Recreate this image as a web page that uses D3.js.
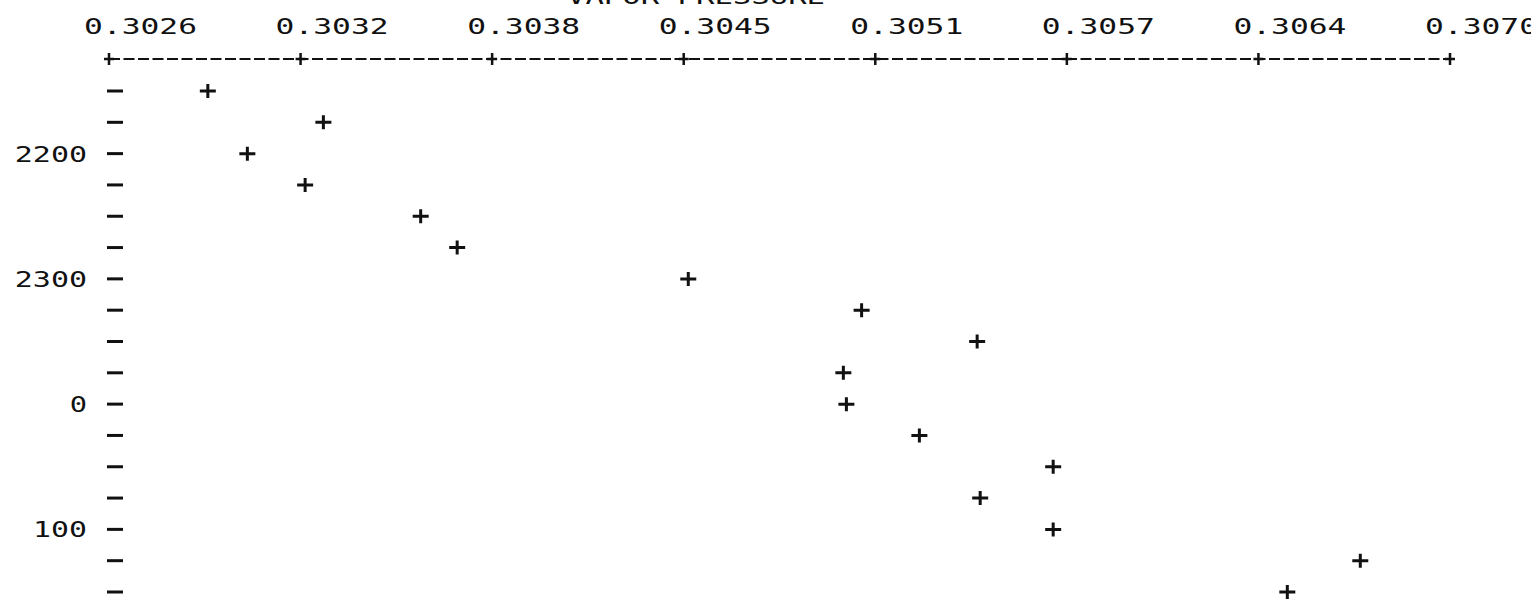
<!DOCTYPE html>
<html>
<head>
  <script src="https://cdnjs.cloudflare.com/ajax/libs/d3/7.8.5/d3.min.js"></script>
  <style>
    body { margin: 0; background: #fff; overflow: hidden; }
    text { font-family: "DejaVu Sans Mono", monospace; fill: #111; }
  </style>
</head>
<body>
  <svg></svg>
  <script>
    // observations: vapor pressure read at each clock time (HHMM)
    var clockTimes = [2130, 2145, 2200, 2215, 2230, 2245, 2300, 2315, 2330, 2345, 0, 15, 30, 45, 100, 115, 130];
    var vaporPressure = [0.30290, 0.30328, 0.30303, 0.30322, 0.30360, 0.30372, 0.30448, 0.30505, 0.30543,
                         0.30499, 0.30500, 0.30524, 0.30568, 0.30544, 0.30568, 0.30669, 0.30645];

    // top axis ticks and their printed labels
    var xTickValues = [0.302575, 0.303205, 0.303835, 0.304465, 0.305095, 0.305725, 0.306355, 0.306985];
    var xTickLabels = ["0.3026", "0.3032", "0.3038", "0.3045", "0.3051", "0.3057", "0.3064", "0.3070"];
    var yTitle = "VAPOR PRESSURE";

    var width = 1531, height = 600;
    var svg = d3.select("svg").attr("width", width).attr("height", height);

    // minutes elapsed since the first reading (clock wraps at midnight)
    function toMinutes(hhmm) {
      var m = Math.floor(hhmm / 100) * 60 + hhmm % 100;
      var start = Math.floor(clockTimes[0] / 100) * 60 + clockTimes[0] % 100;
      return (m - start + 1440) % 1440;
    }
    function toClock(mins) {
      var start = Math.floor(clockTimes[0] / 100) * 60 + clockTimes[0] % 100;
      var t = (start + mins) % 1440;
      return Math.floor(t / 60) * 100 + t % 60;
    }

    var x = d3.scaleLinear()
      .domain([xTickValues[0], xTickValues[xTickValues.length - 1]])
      .range([109, 1450]);

    var lastMin = toMinutes(clockTimes[clockTimes.length - 1]);
    var y = d3.scaleLinear().domain([0, lastMin]).range([91, 592]);

    var charW = 19;

    // title, mostly cut off at the top of the page
    svg.append("text")
      .attr("x", 567).attr("y", 4)
      .attr("font-size", 21)
      .attr("textLength", charW * yTitle.length - 8)
      .attr("lengthAdjust", "spacingAndGlyphs")
      .text(yTitle);

    // top axis: dashed rule with + at each tick
    var axisY = 59;
    svg.append("line")
      .attr("x1", x.range()[0]).attr("x2", x.range()[1])
      .attr("y1", axisY).attr("y2", axisY)
      .attr("stroke", "#111").attr("stroke-width", 2)
      .attr("stroke-dasharray", "11,3.5");

    svg.selectAll(".xtick").data(xTickValues).enter()
      .append("path")
      .attr("class", "xtick")
      .attr("transform", function(d) { return "translate(" + x(d) + "," + axisY + ")"; })
      .attr("d", "M-5,0H5M0,-6V6")
      .attr("stroke", "#111").attr("stroke-width", 2.5);

    svg.selectAll(".xlabel").data(xTickValues).enter()
      .append("text")
      .attr("class", "xlabel")
      .attr("x", function(d) { return x(d) - 25; })
      .attr("y", 34)
      .attr("font-size", 21)
      .attr("textLength", function(d, i) { return charW * xTickLabels[i].length - 1; })
      .attr("lengthAdjust", "spacingAndGlyphs")
      .text(function(d, i) { return xTickLabels[i]; });

    // left axis: a dash every 15 minutes, clock label every hour
    var yTicks = d3.range(0, lastMin + 1, 15);
    svg.selectAll(".ytick").data(yTicks).enter()
      .append("line")
      .attr("class", "ytick")
      .attr("x1", 107).attr("x2", 123)
      .attr("y1", function(d) { return y(d); })
      .attr("y2", function(d) { return y(d); })
      .attr("stroke", "#111").attr("stroke-width", 3);

    var hourTicks = yTicks.filter(function(d) { return toClock(d) % 100 === 0; });
    svg.selectAll(".ylabel").data(hourTicks).enter()
      .append("text")
      .attr("class", "ylabel")
      .attr("x", 87)
      .attr("y", function(d) { return y(d) + 8; })
      .attr("font-size", 21)
      .attr("text-anchor", "end")
      .attr("textLength", function(d) { return 18.3 * String(toClock(d)).length - 1; })
      .attr("lengthAdjust", "spacingAndGlyphs")
      .text(function(d) { return String(toClock(d)); });

    // data points as + marks
    var points = clockTimes.map(function(t, i) { return { t: toMinutes(t), p: vaporPressure[i] }; });
    svg.selectAll(".pt").data(points).enter()
      .append("path")
      .attr("class", "pt")
      .attr("transform", function(d) { return "translate(" + x(d.p) + "," + y(d.t) + ")"; })
      .attr("d", "M-8,0H8M0,-7V7")
      .attr("stroke", "#111").attr("stroke-width", 3);
  </script>
</body>
</html>
